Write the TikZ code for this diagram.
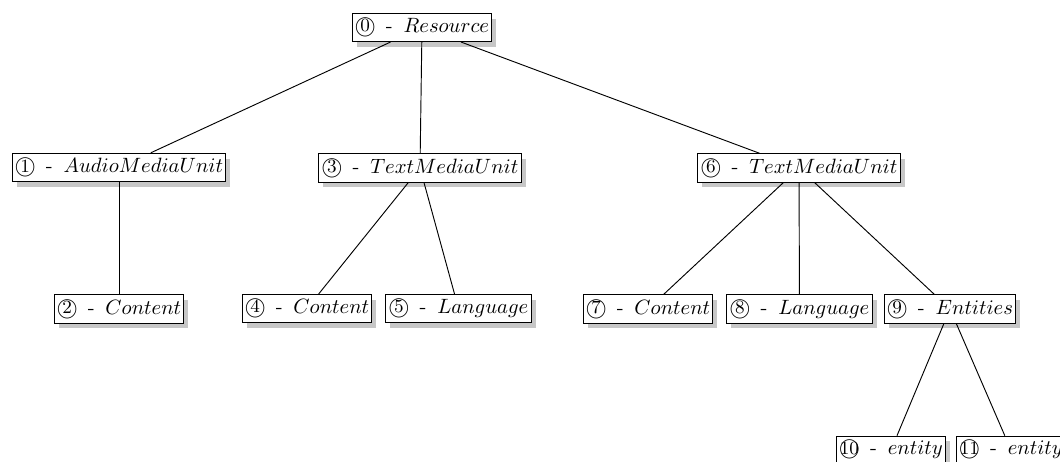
\documentclass[tikz,border=0pt]{standalone}
\usetikzlibrary{shadows}
% circled number: digits centred in a big circle
\newcommand\cnum[1]{\ooalign{\hfil\raise.07ex\hbox{\small #1}\hfil\crcr$\bigcirc$}}
% label: circled number, dash, italic name
\newcommand\lbl[2]{\cnum{#1}\hspace{5pt}-\hspace{5.2pt}$#2$}
\tikzset{
  box/.style={draw, fill=white, line width=0.5pt, inner xsep=1.3pt, inner ysep=2.4pt,
    drop shadow={shadow xshift=2.2pt, shadow yshift=-2.5pt, fill=black!22, opacity=1}},
  link/.style={line width=0.45pt}
}
\begin{document}
\begin{tikzpicture}[x=0.4830pt, y=-0.4830pt]
\useasboundingbox (0,0) rectangle (1060,462);
\node[box] (n0) at (422,27.5) {\lbl{0}{Resource}};
\node[box] (n1) at (119,167.5) {\lbl{1}{AudioMediaUnit}};
\node[box] (n3) at (420,168) {\lbl{3}{TextMediaUnit}};
\node[box] (n6) at (799,168) {\lbl{6}{TextMediaUnit}};
\node[box] (n2) at (119,309) {\lbl{2}{Content}};
\node[box] (n4) at (307,308.5) {\lbl{4}{Content}};
\node[box] (n5) at (458.5,308.5) {\lbl{5}{Language}};
\node[box] (n7) at (648,309) {\lbl{7}{Content}};
\node[box] (n8) at (799.5,309) {\lbl{8}{Language}};
\node[box] (n9) at (950,309) {\lbl{9}{Entities}};
\node[box] (n10) at (891,450) {\lbl{10}{entity}};
\node[box] (n11) at (1011,450) {\lbl{11}{entity}};
\draw[link] (n0) -- (n1);
\draw[link] (n0) -- (n3);
\draw[link] (n0) -- (n6);
\draw[link] (n1) -- (n2);
\draw[link] (n3) -- (n4);
\draw[link] (n3) -- (n5);
\draw[link] (n6) -- (n7);
\draw[link] (n6) -- (n8);
\draw[link] (n6) -- (n9);
\draw[link] (n9) -- (n10);
\draw[link] (n9) -- (n11);
\end{tikzpicture}
\end{document}
